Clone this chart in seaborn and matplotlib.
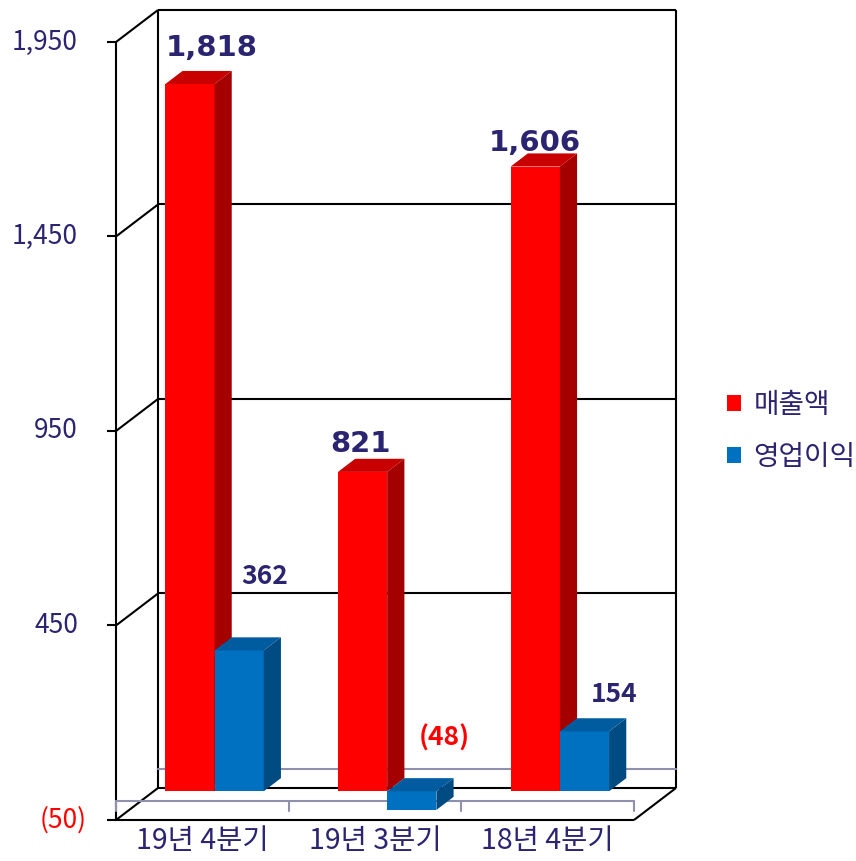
import numpy as np
import pandas as pd
import matplotlib
matplotlib.use("Agg")
import matplotlib.pyplot as plt
import seaborn as sns
from matplotlib.patches import Polygon


# data
quarters = ["19년 4분기", "19년 3분기", "18년 4분기"]
series = ["매출액", "영업이익"]
sales = [1818, 821, 1606]
op_profit = [362, -48, 154]
y_ticks = [-50, 450, 950, 1450, 1950]

df = pd.DataFrame({
    "quarter": quarters * 2,
    "series": [series[0]] * 3 + [series[1]] * 3,
    "value": sales + op_profit,
})

# colors
navy = "#2B2470"
front_cols = {"매출액": "#FF0000", "영업이익": "#0070C0"}
side_cols = ["#A40000", "#004B82"]
top_cols = ["#C80000", "#005C9E"]
grey = "#8F8FB0"

# label nudges in pixels (dx, dy above bar top)
label_dx = [[22, -2, 0], [26, 33, 30]]
label_dy = [[28, 20, 16], [66, 46, 29]]

sns.set_style("white")
plt.rcParams["font.family"] = ["Noto Sans CJK KR", "DejaVu Sans"]

W, H = 856, 861
fig = plt.figure(figsize=(W / 100, H / 100), dpi=100)
left_px, right_px, top_px, bot_px = 116, 634, 42, 820
ax = fig.add_axes([left_px / W, 1 - bot_px / H, (right_px - left_px) / W, (bot_px - top_px) / H])

sns.barplot(data=df, x="quarter", y="value", hue="series", order=quarters, hue_order=series,
            palette=front_cols, saturation=1, width=0.57, linewidth=0, ax=ax)
ax.set_xlim(-0.5, 2.5)
ax.set_ylim(-50, 1950)

# pixel -> data conversion for the 3d depth
px_x = (right_px - left_px) / 3
px_y = (bot_px - top_px) / 2000
DX, DY = 42 / px_x, 32 / px_y
bar_front, bar_back = 0.29, 0.70

lk = dict(color="black", lw=1.5, clip_on=False, solid_capstyle="butt")

# walls and floor
ax.vlines([-0.5 + DX, 2.5 + DX], -50 + DY, 1950 + DY, zorder=1, color="black", lw=1.5, clip_on=False)
for y in y_ticks:
    ax.plot([-0.5 + DX, 2.5 + DX], [y + DY, y + DY], zorder=1, **lk)
    ax.plot([-0.5, -0.5 + DX], [y, y + DY], zorder=1, **lk)
ax.plot([2.5, 2.5 + DX], [-50, -50 + DY], zorder=1, **lk)
ax.plot([-0.5, 2.5], [-50, -50], zorder=1, **lk)
ax.plot([-0.5, -0.5], [-50, 1950], zorder=1, **lk)

# zero lines (back wall and front category axis)
ax.plot([-0.5 + DX, 2.5 + DX], [DY, DY], color=grey, lw=1.5, zorder=1.2, clip_on=False)
ax.plot([-0.5, 2.5], [0, 0], color=grey, lw=1.5, zorder=1.2, clip_on=False)
for xb in [-0.5, 0.5, 1.5, 2.5]:
    ax.plot([xb, xb], [0, -10 / px_y], color=grey, lw=1.5, zorder=1.2, clip_on=False)

# 3d bars
fx, fy = bar_front * DX, bar_front * DY
d = bar_back - bar_front
for i, cont in enumerate(ax.containers):
    for j, bar in enumerate(cont):
        bar.set_x(bar.get_x() + fx)
        bar.set_y(bar.get_y() + fy)
        bar.set_zorder(3 + i)
        bar.set_clip_on(False)
        x0, w = bar.get_x(), bar.get_width()
        y0 = bar.get_y()
        y1 = y0 + bar.get_height()
        lo, hi = min(y0, y1), max(y0, y1)
        side = [(x0 + w, lo), (x0 + w, hi), (x0 + w + d * DX, hi + d * DY), (x0 + w + d * DX, lo + d * DY)]
        top = [(x0, hi), (x0 + w, hi), (x0 + w + d * DX, hi + d * DY), (x0 + d * DX, hi + d * DY)]
        ax.add_patch(Polygon(side, closed=True, fc=side_cols[i], ec="none", zorder=3 + i + 0.1, clip_on=False))
        ax.add_patch(Polygon(top, closed=True, fc=top_cols[i], ec="none", zorder=3 + i + 0.2, clip_on=False))

        val = [sales, op_profit][i][j]
        txt = f"{val:,}" if val >= 0 else f"({abs(val):,})"
        col = navy if val >= 0 else "#FF0000"
        if i == 0:
            fkw = dict(family="DejaVu Sans", size=21, weight="bold")
        else:
            fkw = dict(family=["Noto Sans CJK KR", "DejaVu Sans"], size=19, weight="bold")
        ax.annotate(txt, (x0 + w / 2, hi), xytext=(label_dx[i][j], label_dy[i][j]),
                    textcoords="offset pixels", ha="center", va="baseline", color=col,
                    zorder=10, annotation_clip=False, **fkw)

# axes and ticks
for s in ax.spines.values():
    s.set_visible(False)
ax.set_xlabel("")
ax.set_ylabel("")
ax.set_yticks(y_ticks)
ax.set_yticklabels([])
ax.tick_params(axis="y", left=True, length=6.5, width=1.5, color="black", direction="out")
for y in y_ticks:
    if y < 0:
        ax.text(-29 / (right_px - left_px), y, f"({abs(y)})", transform=ax.get_yaxis_transform(),
                ha="right", va="center", color="#FF0000", fontsize=19)
    else:
        ax.text(-38 / (right_px - left_px), y, f"{y:,}", transform=ax.get_yaxis_transform(),
                ha="right", va="center", color=navy, fontsize=19)
ax.set_xticks(range(3))
ax.set_xticklabels(quarters, color=navy, fontsize=20.5)
ax.tick_params(axis="x", bottom=False, length=0, pad=4)
ax.grid(False)

sns.move_legend(ax, "center left", bbox_to_anchor=(727 / W, 1 - 431 / H), bbox_transform=fig.transFigure,
                title=None, frameon=False, fontsize=20, labelcolor=navy, borderpad=0,
                handlelength=0.5, handleheight=0.5, handletextpad=0.45, labelspacing=0.8, borderaxespad=0)

fig.savefig("out.png", dpi=100)
